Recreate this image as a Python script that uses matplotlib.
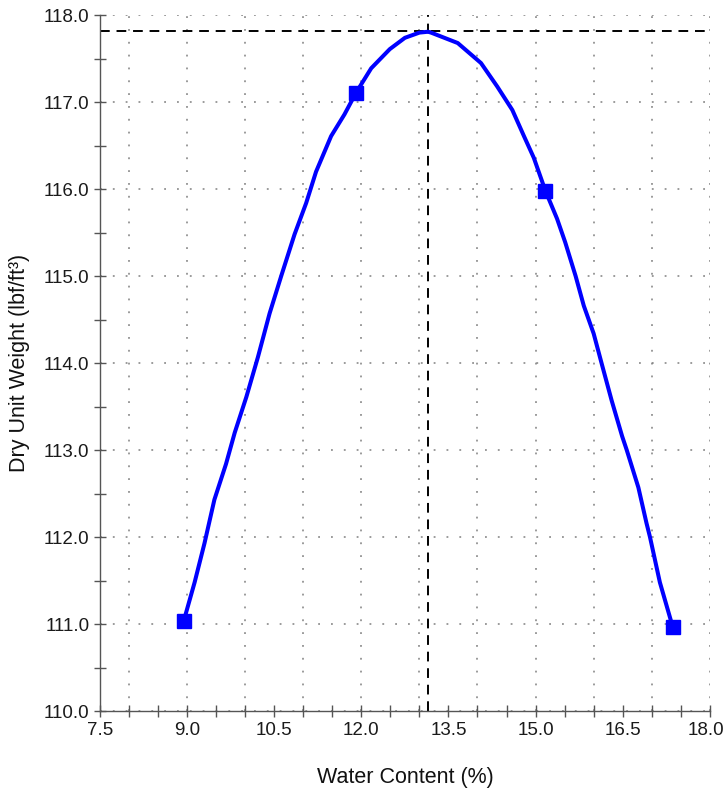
import numpy as np
import matplotlib
matplotlib.use("Agg")
from matplotlib import pyplot as plt
from matplotlib.ticker import MultipleLocator, FormatStrFormatter
from matplotlib.transforms import ScaledTranslation

plt.rcParams["font.family"] = ["Liberation Sans", "DejaVu Sans"]

# measured points
water = [8.94, 11.91, 15.17, 17.36]
dry_weight = [111.03, 117.11, 115.98, 110.97]

# fitted curve
curve_x = [8.94, 9.13, 9.30, 9.47, 9.67, 9.82, 10.02, 10.22, 10.42, 10.62, 10.85,
           11.05, 11.22, 11.48, 11.71, 11.91, 12.17, 12.49, 12.75, 13.00, 13.15,
           13.20, 13.66, 14.06, 14.34, 14.60, 14.80, 14.97, 15.17, 15.37, 15.51,
           15.69, 15.83, 16.00, 16.14, 16.31, 16.49, 16.57, 16.77, 16.91, 16.97,
           17.14, 17.36]
curve_y = [111.03, 111.48, 111.93, 112.43, 112.84, 113.20, 113.61, 114.07, 114.57,
           115.00, 115.48, 115.84, 116.20, 116.61, 116.86, 117.11, 117.39, 117.61,
           117.74, 117.80, 117.81, 117.80, 117.68, 117.45, 117.18, 116.91, 116.61,
           116.36, 115.98, 115.66, 115.39, 115.00, 114.66, 114.34, 113.99, 113.57,
           113.16, 113.00, 112.57, 112.16, 112.00, 111.48, 110.97]

# optimum
opt_water = 13.15
max_dry = 117.82

fig = plt.figure(figsize=(7.26, 7.88), dpi=100)
ax = fig.add_axes([0.1377, 0.0977, 0.840, 0.883])

ax.set_xlim(7.5, 18.0)
ax.set_ylim(110.0, 118.0)

grid_style = dict(color="#808080", linestyle=(0, (1.2, 7.2)), linewidth=1.1, zorder=1)
for gx in np.arange(8, 19, 1):
    ax.axvline(gx, **grid_style)
for gy in np.arange(110, 119, 1):
    ax.axhline(gy, **grid_style)

ax.axhline(max_dry, color="black", linestyle=(0, (5, 3.5)), linewidth=1.4, zorder=2)
ax.axvline(opt_water, color="black", linestyle=(0, (5, 3.5)), linewidth=1.4, zorder=2)

ax.plot(curve_x, curve_y, color="#0000ff", linewidth=2.9, zorder=3,
        solid_joinstyle="round", solid_capstyle="round")
ax.plot(water, dry_weight, linestyle="none", marker="s", markersize=10,
        color="#0000ff", zorder=4)

ax.xaxis.set_major_locator(MultipleLocator(1.5))
ax.xaxis.set_minor_locator(MultipleLocator(0.5))
ax.yaxis.set_major_locator(MultipleLocator(1.0))
ax.yaxis.set_minor_locator(MultipleLocator(0.5))
ax.xaxis.set_major_formatter(FormatStrFormatter("%.1f"))
ax.yaxis.set_major_formatter(FormatStrFormatter("%.1f"))

for s in ["top", "right"]:
    ax.spines[s].set_visible(False)
for s in ["left", "bottom"]:
    ax.spines[s].set_color("#555555")
    ax.spines[s].set_linewidth(1.0)

ax.tick_params(which="both", direction="inout", length=8, width=1.0,
               color="#555555", labelsize=13.5, labelcolor="#1a1a1a")
ax.tick_params(axis="x", pad=4)

ax.set_xlabel("Water Content (%)", fontsize=15.5, color="#111111", labelpad=20)
ax.set_ylabel("Dry Unit Weight (lbf/ft³)", fontsize=15.5, color="#111111", labelpad=10)

# nudge the last x label so it stays inside the image
fig.canvas.draw()
last = [t for t in ax.xaxis.get_major_ticks() if abs(t.get_loc() - 18.0) < 1e-6]
for t in last:
    t.label1.set_transform(t.label1.get_transform()
                           + ScaledTranslation(-3 / 72, 0, fig.dpi_scale_trans))

fig.savefig("out.png", dpi=100)
